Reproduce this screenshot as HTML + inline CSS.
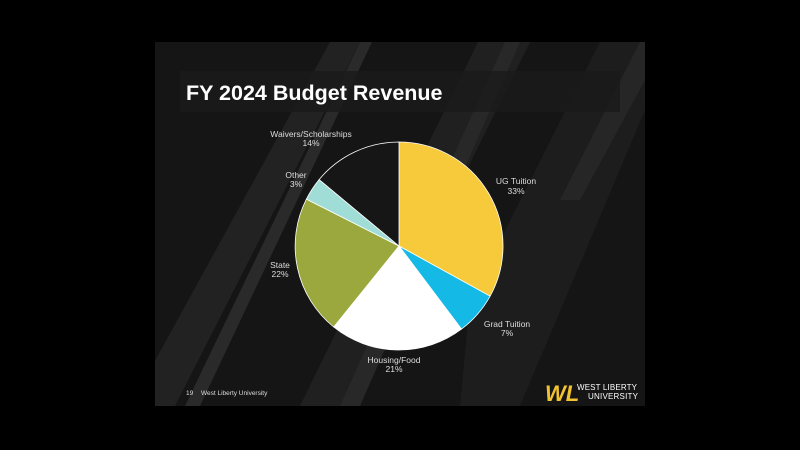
<!DOCTYPE html>
<html><head><meta charset="utf-8"><style>
html,body{margin:0;padding:0;background:#000;width:800px;height:450px;overflow:hidden}
svg{display:block}
text{font-family:"Liberation Sans",sans-serif}
</style></head><body>
<svg width="800" height="450" viewBox="0 0 800 450" xmlns="http://www.w3.org/2000/svg">
<rect width="800" height="450" fill="#000"/>
<clipPath id="sl"><rect x="155" y="42" width="490" height="364"/></clipPath>
<g clip-path="url(#sl)">
<rect x="155" y="42" width="490" height="364" fill="#151515"/>
<polygon points="150,370 330,42 360,42 175,406 150,406" fill="#222"/>
<polygon points="185,406 360,42 372,42 200,406" fill="#2a2a2a"/>
<polygon points="300,406 478,42 530,42 350,406" fill="#202020"/>
<polygon points="340,406 505,42 520,42 360,406" fill="#282828"/>
<polygon points="470,300 600,42 645,42 645,110 520,406 460,406" fill="#1d1d1d"/>
<polygon points="560,200 640,42 645,42 645,80 580,200" fill="#262626"/>
<rect x="180" y="71" width="440" height="41" fill="#1a1a1a" opacity="0.8"/>
</g>
<text x="186" y="100" font-size="21.5" font-weight="bold" fill="#fff">FY 2024 Budget Revenue</text>
<g stroke="#fff" stroke-width="0.8" stroke-linejoin="round">
<path d="M399,246 L399,142 A104,104 0 0 1 490.1,296.2 Z" fill="#f6ca3b"/>
<path d="M399,246 L490.1,296.2 A104,104 0 0 1 461.5,329.1 Z" fill="#14b9e6"/>
<path d="M399,246 L461.5,329.1 A104,104 0 0 1 333.7,327.0 Z" fill="#ffffff"/>
<path d="M399,246 L333.7,327.0 A104,104 0 0 1 306.4,199.1 Z" fill="#9ba83d"/>
<path d="M399,246 L306.4,199.1 A104,104 0 0 1 319.1,179.6 Z" fill="#a0ddd6"/>
<path d="M399,246 L319.1,179.6 A104,104 0 0 1 399,142 Z" fill="#161616"/>
</g>
<g font-size="8.5" fill="#ddd" text-anchor="middle">
<text x="311" y="137">Waivers/Scholarships</text><text x="311" y="146">14%</text>
<text x="296" y="178">Other</text><text x="296" y="187">3%</text>
<text x="516" y="184">UG Tuition</text><text x="516" y="194">33%</text>
<text x="280" y="268">State</text><text x="280" y="277">22%</text>
<text x="507" y="327">Grad Tuition</text><text x="507" y="336">7%</text>
<text x="394" y="363">Housing/Food</text><text x="394" y="372">21%</text>
</g>
<text x="186" y="395" font-size="6.5" fill="#ddd">19</text>
<text x="201" y="395" font-size="6.5" fill="#ddd">West Liberty University</text>
<text x="545" y="401" font-size="22" font-weight="bold" font-style="italic" fill="#f2c230" font-family="Liberation Serif,serif">WL</text>
<text x="577" y="390" font-size="8" fill="#fff" font-family="Liberation Serif,serif" textLength="60">WEST LIBERTY</text>
<text x="588" y="399" font-size="8" fill="#fff" font-family="Liberation Serif,serif" textLength="50">UNIVERSITY</text>
</svg>
</body></html>
